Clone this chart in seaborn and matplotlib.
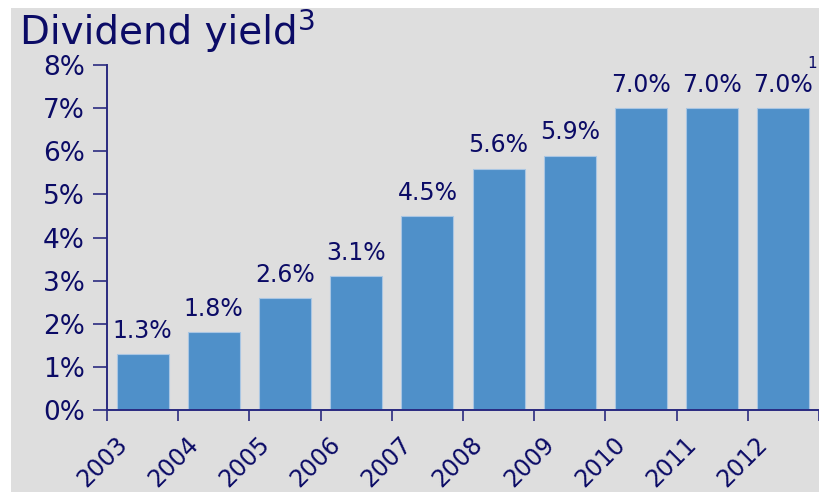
import seaborn as sns
import pandas as pd
import matplotlib.pyplot as plt
from matplotlib.patches import Rectangle

years = ['2003', '2004', '2005', '2006', '2007', '2008', '2009', '2010', '2011', '2012']
yield_pct = [1.3, 1.8, 2.6, 3.1, 4.5, 5.6, 5.9, 7.0, 7.0, 7.0]
y_ticks = [0, 1, 2, 3, 4, 5, 6, 7, 8]

navy = '#0b0b66'
bar_blue = '#4f90c9'
bg = '#dedede'

sns.set_style('white')
plt.rcParams['font.family'] = ['DejaVu Sans']

data = pd.DataFrame({'Year': years, 'Yield': yield_pct})

fig = plt.figure(figsize=(8.2, 4.92), dpi=100, facecolor=bg)
# thin white margins on the left and top
fig.patches.append(Rectangle((0, 0), 11 / 820, 1, transform=fig.transFigure,
                             facecolor='white', edgecolor='none', zorder=-10))
fig.patches.append(Rectangle((0, 1 - 8 / 492), 1, 8 / 492, transform=fig.transFigure,
                             facecolor='white', edgecolor='none', zorder=-10))

ax = fig.add_axes([107 / 820, 82 / 492, 712 / 820, 345 / 492])
ax.set_facecolor('none')

sns.barplot(data=data, x='Year', y='Yield', color=bar_blue, saturation=1,
            width=0.73, edgecolor='#a9c6e3', linewidth=0.8, ax=ax)

# value labels
for cont in ax.containers:
    ax.bar_label(cont, labels=[f'{v:.1f}%' for v in yield_pct], padding=8,
                 fontsize=17, color=navy)

ax.set_xlim(-0.5, len(years) - 0.5)
ax.set_ylim(0, 8)
ax.set_yticks(y_ticks)
ax.set_yticklabels([f'{t}%' for t in y_ticks], fontsize=19, color=navy)
ax.set_xlabel('')
ax.set_ylabel('')

# ticks between categories, year labels drawn at the centres
ax.set_xticks([i - 0.5 for i in range(len(years) + 1)])
ax.set_xticklabels([])
for i, yr in enumerate(years):
    ax.annotate(yr, xy=(i, 0), xycoords=('data', 'axes fraction'),
                xytext=(-20, -16), textcoords='offset points',
                rotation=45, rotation_mode='anchor', ha='right', va='top',
                fontsize=17, color=navy)

ax.tick_params(axis='x', direction='out', length=8, width=1.2,
               color='#2a2a80', bottom=True)
ax.tick_params(axis='y', direction='out', length=10, width=1.2, color='#2a2a80',
               left=True, pad=6)

for side in ['top', 'right']:
    ax.spines[side].set_visible(False)
for side in ['left', 'bottom']:
    ax.spines[side].set_color('#2a2a80')
    ax.spines[side].set_linewidth(1.4)

fig.text(20 / 820, 1 - 44 / 492, 'Dividend yield', fontsize=28, color=navy,
         va='baseline', ha='left')
fig.text(298 / 820, 1 - 30 / 492, '3', fontsize=20, color=navy,
         va='baseline', ha='left')
fig.text(812 / 820, 1 - 68 / 492, '1', fontsize=11, color=navy,
         va='baseline', ha='center')

fig.savefig('out.png', dpi=100, facecolor=bg)
